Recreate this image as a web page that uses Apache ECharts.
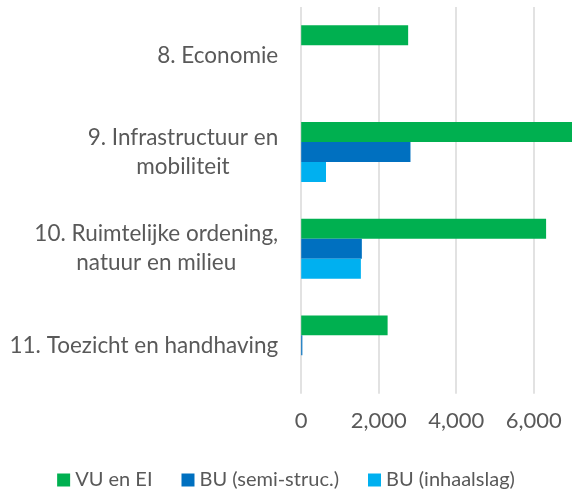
<!DOCTYPE html>
<html>
<head>
<meta charset="utf-8">
<script src="https://cdn.jsdelivr.net/npm/echarts@6/dist/echarts.min.js"></script>
<style>
  html, body { margin: 0; padding: 0; background: #fff; }
  #chart { width: 572px; height: 493px; }
</style>
</head>
<body>
<div id="chart"></div>
<script>
// categorieen (van boven naar beneden)
const categories = [
	'8. Economie',
	'9. Infrastructuur en\nmobiliteit',
	'10. Ruimtelijke ordening,\nnatuur en milieu',
	'11. Toezicht en handhaving'
];

const seriesNames = ['VU en EI', 'BU (semi-struc.)', 'BU (inhaalslag)'];

const vuEnEi     = [2760, 7200, 6320, 2230];
const buSemi     = [0, 2820, 1565, 30];
const buInhaal   = [0, 640, 1540, 0];

const xTicks = [0, 2000, 4000, 6000];

const colors = ['#00B050', '#0070C0', '#00B0F0'];
const font = 'Lato';
const textColor = '#595959';

var myChart = echarts.init(document.getElementById('chart'));

//label regels gecentreerd binnen het blok
function wrapLabel(value) {
	return value.split('\n').map((line) => `{c|${line}}`).join('\n');
}

var option = {
	animation: false,
	textStyle: { fontFamily: font },
	grid: {
		left: 301.2,
		right: -39.2,   //as loopt door tot 8000, rechterkant valt buiten beeld
		top: 7,
		bottom: 99.3,
		containLabel: false,
		outerBoundsMode: 'none'
	},
	legend: {
		bottom: -2,
		left: 'center',
		itemWidth: 13,
		itemHeight: 13,
		itemGap: 29,
		icon: 'rect',
		textStyle: { color: textColor, fontSize: 20, fontFamily: font },
		data: seriesNames
	},
	xAxis: {
		type: 'value',
		min: 0,
		max: 8000,
		interval: 2000,
		axisLine: { show: false },
		axisTick: { show: false },
		axisLabel: {
			margin: 16,
			color: textColor,
			fontSize: 22,
			fontFamily: font,
			formatter: (v) => xTicks.includes(v) ? v.toLocaleString('en-US') : ''
		},
		splitLine: { lineStyle: { color: '#D9D9D9', width: 1.5 } }
	},
	yAxis: {
		type: 'category',
		inverse: true,
		data: categories,
		axisLine: { show: false },
		axisTick: { show: false },
		axisLabel: {
			margin: 23,
			align: 'right',
			color: textColor,
			fontSize: 22.5,
			fontFamily: font,
			formatter: wrapLabel,
			rich: {
				c: { align: 'center', color: textColor, fontSize: 22.5, fontFamily: font, lineHeight: 29 }
			}
		}
	},
	series: [
		{ name: seriesNames[0], type: 'bar', data: vuEnEi,   itemStyle: { color: colors[0] }, barGap: '0%', barCategoryGap: '38%' },
		{ name: seriesNames[1], type: 'bar', data: buSemi,   itemStyle: { color: colors[1] }, barGap: '0%', barCategoryGap: '38%' },
		{ name: seriesNames[2], type: 'bar', data: buInhaal, itemStyle: { color: colors[2] }, barGap: '0%', barCategoryGap: '38%' }
	]
};

myChart.setOption(option);
</script>
</body>
</html>
